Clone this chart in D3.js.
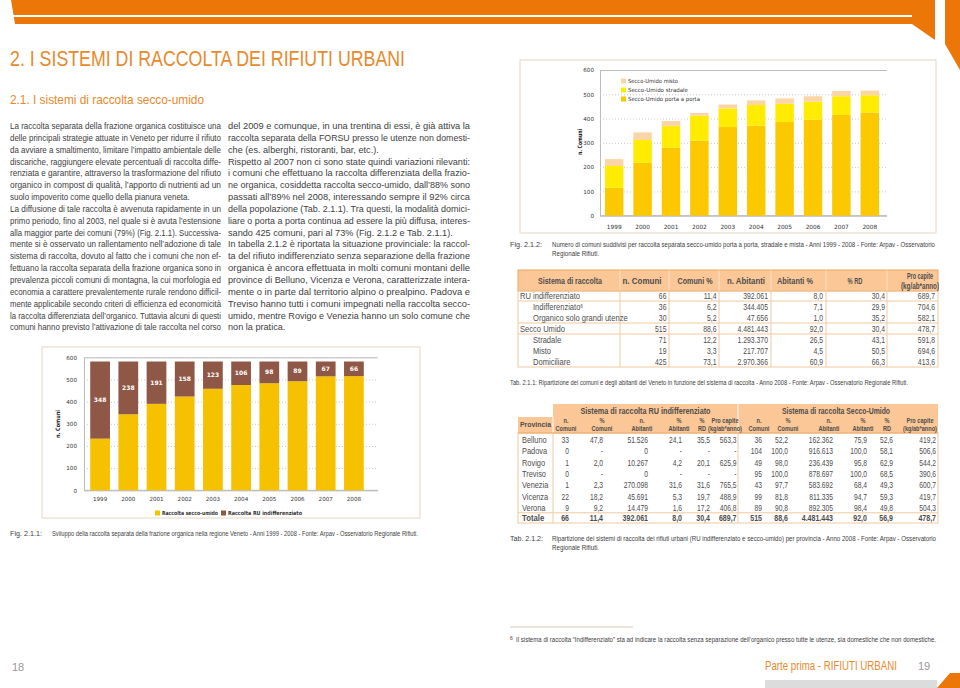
<!DOCTYPE html>
<html><head><meta charset="utf-8">
<script src="https://cdn.jsdelivr.net/npm/d3@7"></script>
<style>
html,body{margin:0;padding:0;background:#fff;}
svg{display:block;}
</style></head><body>
<svg id="page" width="960" height="688"></svg>
<script>
// ---------------- DATA ----------------
const years = ["1999","2000","2001","2002","2003","2004","2005","2006","2007","2008"];
const seccoUmido = [233,343,390,423,458,475,483,492,514,515];
const ruIndifferenziato = [348,238,191,158,123,106,98,89,67,66];
const portaAPorta = [115,218,280,309,365,371,386,395,415,425];
const stradale = [90,94,89,103,77,85,75,75,77,71];
const misto = [28,31,21,11,16,19,22,22,22,19];
const yTicks = [0,100,200,300,400,500,600];

const tab1Header = ["Sistema di raccolta","n. Comuni","Comuni %","n. Abitanti","Abitanti %","% RD","Pro capite|(kg/ab*anno)"];
const tab1Labels = ["RU indifferenziato","Indifferenziato","Organico solo grandi utenze","Secco Umido","Stradale","Misto","Domiciliare"];
const tab1Level = [0,1,1,0,1,1,1];
const tab1Values = [
  ["66","11,4","392.061","8,0","30,4","689,7"],
  ["36","6,2","344.405","7,1","29,9","704,6"],
  ["30","5,2","47.656","1,0","35,2","582,1"],
  ["515","88,6","4.481.443","92,0","30,4","478,7"],
  ["71","12,2","1.293.370","26,5","43,1","591,8"],
  ["19","3,3","217.707","4,5","50,5","694,6"],
  ["425","73,1","2.970.366","60,9","66,3","413,6"]
];
const tab2Groups = ["Sistema di raccolta RU indifferenziato","Sistema di raccolta Secco-Umido"];
const tab2Sub = [["n.","Comuni"],["%","Comuni"],["n.","Abitanti"],["%","Abitanti"],["%","RD"],["Pro capite","(kg/ab*anno)"]];
const province = ["Belluno","Padova","Rovigo","Treviso","Venezia","Vicenza","Verona","Totale"];
const tab2RU = [
  ["33","47,8","51.526","24,1","35,5","563,3"],
  ["0","-","0","-","-","-"],
  ["1","2,0","10.267","4,2","20,1","625,9"],
  ["0","-","0","-","-","-"],
  ["1","2,3","270.098","31,6","31,6","765,5"],
  ["22","18,2","45.691","5,3","19,7","488,9"],
  ["9","9,2","14.479","1,6","17,2","406,8"],
  ["66","11,4","392.061","8,0","30,4","689,7"]
];
const tab2SU = [
  ["36","52,2","162.362","75,9","52,6","419,2"],
  ["104","100,0","916.613","100,0","58,1","506,6"],
  ["49","98,0","236.439","95,8","62,9","544,2"],
  ["95","100,0","878.697","100,0","68,5","390,6"],
  ["43","97,7","583.692","68,4","49,3","600,7"],
  ["99","81,8","811.335","94,7","59,3","419,7"],
  ["89","90,8","892.305","98,4","49,8","504,3"],
  ["515","88,6","4.481.443","92,0","56,9","478,7"]
];

const leftLines = [
"La raccolta separata della frazione organica costituisce una",
"delle principali strategie attuate in Veneto per ridurre il rifiuto",
"da avviare a smaltimento, limitare l’impatto ambientale delle",
"discariche, raggiungere elevate percentuali di raccolta diffe-",
"renziata e garantire, attraverso la trasformazione del rifiuto",
"organico in compost di qualità, l’apporto di nutrienti ad un",
"suolo impoverito come quello della pianura veneta.",
"La diffusione di tale raccolta è avvenuta rapidamente in un",
"primo periodo, fino al 2003, nel quale si è avuta l’estensione",
"alla maggior parte dei comuni (79%) (Fig. 2.1.1). Successiva-",
"mente si è osservato un rallentamento nell’adozione di tale",
"sistema di raccolta, dovuto al fatto che i comuni che non ef-",
"fettuano la raccolta separata della frazione organica sono in",
"prevalenza piccoli comuni di montagna, la cui morfologia ed",
"economia a carattere prevalentemente rurale rendono difficil-",
"mente applicabile secondo criteri di efficienza ed economicità",
"la raccolta differenziata dell’organico. Tuttavia alcuni di questi",
"comuni hanno previsto l’attivazione di tale raccolta nel corso"
];
const midLines = [
"del 2009 e comunque, in una trentina di essi, è già attiva la",
"raccolta separata della FORSU presso le utenze non domesti-",
"che (es. alberghi, ristoranti, bar, etc.).",
"Rispetto al 2007 non ci sono state quindi variazioni rilevanti:",
"i comuni che effettuano la raccolta differenziata della frazio-",
"ne organica, cosiddetta raccolta secco-umido, dall’88% sono",
"passati all’89% nel 2008, interessando sempre il 92% circa",
"della popolazione (Tab. 2.1.1). Tra questi, la modalità domici-",
"liare o porta a porta continua ad essere la più diffusa, interes-",
"sando 425 comuni, pari al 73% (Fig. 2.1.2 e Tab. 2.1.1).",
"In tabella 2.1.2 è riportata la situazione provinciale: la raccol-",
"ta del rifiuto indifferenziato senza separazione della frazione",
"organica è ancora effettuata in molti comuni montani delle",
"province di Belluno, Vicenza e Verona, caratterizzate intera-",
"mente o in parte dal territorio alpino o prealpino. Padova e",
"Treviso hanno tutti i comuni impegnati nella raccolta secco-",
"umido, mentre Rovigo e Venezia hanno un solo comune che",
"non la pratica."
];

// ---------------- HELPERS ----------------
const BODY = "'Liberation Sans',Arial,sans-serif";
const CHART = "'DejaVu Sans',Verdana,sans-serif";
const ORANGE = "#ec7608";
const TORANGE = "#e8892c";
const TXT = "#3d3d3d";
const TAB = "#4d4d4d";
const svg = d3.select("#page");

function txt(p, x, y, s, o) {
  o = o || {};
  const t = p.append("text").attr("x", x).attr("y", y).attr("dy", "0.35em").text(s)
    .attr("font-family", o.family || BODY).attr("font-size", o.size || 9)
    .attr("fill", o.fill || TXT);
  if (o.weight) t.attr("font-weight", o.weight);
  if (o.anchor) t.attr("text-anchor", o.anchor);
  if (o.w) t.attr("textLength", o.w).attr("lengthAdjust", "spacingAndGlyphs");
  else if (o.k) {
    const nat = t.node().getComputedTextLength();
    t.attr("textLength", nat * o.k).attr("lengthAdjust", "spacingAndGlyphs");
  }
  return t;
}
function natural(p, s, size, weight) {
  const t = p.append("text").text(s).attr("font-family", BODY).attr("font-size", size);
  if (weight) t.attr("font-weight", weight);
  const n = t.node().getComputedTextLength();
  t.remove();
  return n;
}

// ---------------- HEADER / FOOTER ----------------
svg.append("polygon").attr("points", "10,0 935,0 935,40 912,24 15,24 11,0").attr("fill", ORANGE);
svg.append("rect").attr("x", 12).attr("y", 15).attr("width", 900).attr("height", 2).attr("fill", "#fff");
svg.append("polygon").attr("points", "945,0 960,0 960,70 945,44").attr("fill", ORANGE);
svg.append("rect").attr("x", 765).attr("y", 680).attr("width", 172).attr("height", 8).attr("fill", "#dcdcdc");
svg.append("polygon").attr("points", "937,688 950,673 960,673 960,688").attr("fill", ORANGE);

txt(svg, 10, 58, "2. I SISTEMI DI RACCOLTA DEI RIFIUTI URBANI", {size: 22, fill: TORANGE, w: 395});
txt(svg, 10, 99, "2.1.  I sistemi di raccolta secco-umido", {size: 13, fill: TORANGE, w: 194});

txt(svg, 12, 667, "18", {size: 11, fill: "#999"});
txt(svg, 765, 666, "Parte prima - RIFIUTI URBANI", {size: 12.5, fill: TORANGE, w: 132});
txt(svg, 918, 666, "19", {size: 11, fill: "#999"});

// ---------------- BODY TEXT ----------------
const lineH = 11.85;
const BSIZE = 9.3;
function column(lines, x0, width, shortIdx) {
  let ratios = [];
  lines.forEach((s, i) => { if (!shortIdx.includes(i)) ratios.push(width / natural(svg, s, BSIZE)); });
  const k = d3.mean(ratios);
  lines.forEach((s, i) => {
    const y = 125.7 + i * lineH;
    if (shortIdx.includes(i)) txt(svg, x0, y, s, {size: BSIZE, k: k});
    else txt(svg, x0, y, s, {size: BSIZE, w: width});
  });
}
column(leftLines, 10, 211, [6]);
column(midLines, 228, 242, [2, 9, 17]);

// ---------------- CHART 1 ----------------
const c1 = svg.append("g");
c1.append("rect").attr("x", 42).attr("y", 347).attr("width", 378).attr("height", 171)
  .attr("fill", "none").attr("stroke", "#e8d6c0").attr("stroke-width", 1);
const x1 = d3.scaleBand().domain(years).range([86, 368]).paddingInner(0.3).paddingOuter(0.15);
const y1 = d3.scaleLinear().domain([0, 600]).range([490.3, 357.3]);
const ax1 = c1.append("g").attr("transform", "translate(84,0)")
  .call(d3.axisLeft(y1).tickValues(yTicks).tickSize(-294).tickPadding(7).tickFormat(d3.format("d")));
ax1.select(".domain").attr("stroke", "#bbb");
ax1.selectAll(".tick line").attr("stroke", "#c8c8c8").attr("stroke-dasharray", "1,2");
ax1.selectAll(".tick text").attr("font-family", CHART).attr("font-size", 5.6).attr("fill", "#333");
c1.append("line").attr("x1", 84).attr("x2", 378).attr("y1", y1(0)).attr("y2", y1(0)).attr("stroke", "#bbb");
const ax1x = c1.append("g").attr("transform", `translate(0,${y1(0)})`)
  .call(d3.axisBottom(x1).tickSize(0).tickPadding(7));
ax1x.select(".domain").remove();
ax1x.selectAll(".tick text").attr("font-family", CHART).attr("font-size", 5.6).attr("fill", "#333");

c1.selectAll(".bs").data(years).enter().append("rect")
  .attr("x", d => x1(d)).attr("width", x1.bandwidth())
  .attr("y", (d, i) => y1(seccoUmido[i])).attr("height", (d, i) => y1(0) - y1(seccoUmido[i]))
  .attr("fill", "#f6c200");
c1.selectAll(".br").data(years).enter().append("rect")
  .attr("x", d => x1(d)).attr("width", x1.bandwidth())
  .attr("y", (d, i) => y1(seccoUmido[i] + ruIndifferenziato[i]))
  .attr("height", (d, i) => y1(seccoUmido[i]) - y1(seccoUmido[i] + ruIndifferenziato[i]))
  .attr("fill", "#8f5846");
years.forEach((d, i) => {
  txt(c1, x1(d) + x1.bandwidth() / 2, y1(seccoUmido[i] + ruIndifferenziato[i] / 2), String(ruIndifferenziato[i]),
    {family: CHART, size: 6, weight: "bold", fill: "#fff", anchor: "middle"});
});
txt(c1, 0, 0, "n. Comuni", {family: CHART, size: 6, weight: "bold", fill: "#222", anchor: "middle", w: 28})
  .attr("transform", "translate(58,424) rotate(-90)");
c1.append("rect").attr("x", 155).attr("y", 510.5).attr("width", 5).attr("height", 5).attr("fill", "#f6c200");
txt(c1, 162, 513, "Raccolta secco-umido", {family: CHART, size: 5.6, weight: "bold", fill: "#333", w: 56});
c1.append("rect").attr("x", 221).attr("y", 510.5).attr("width", 5).attr("height", 5).attr("fill", "#8f5846");
txt(c1, 228, 513, "Raccolta RU indifferenziato", {family: CHART, size: 5.6, weight: "bold", fill: "#333", w: 74});

txt(svg, 10, 533, "Fig. 2.1.1:", {size: 7.3, w: 32});
txt(svg, 52, 533, "Sviluppo della raccolta separata della frazione organica nella regione Veneto - Anni 1999 - 2008 - Fonte: Arpav - Osservatorio Regionale Rifiuti.", {size: 7.3, w: 366});

// ---------------- CHART 2 ----------------
const c2 = svg.append("g");
c2.append("rect").attr("x", 520).attr("y", 60).attr("width", 416).attr("height", 173)
  .attr("fill", "none").attr("stroke", "#e8d6c0").attr("stroke-width", 1);
const x2 = d3.scaleBand().domain(years).range([600, 884]).paddingInner(0.35).paddingOuter(0.175);
const y2 = d3.scaleLinear().domain([0, 600]).range([215.7, 70]);
const ax2 = c2.append("g").attr("transform", "translate(600,0)")
  .call(d3.axisLeft(y2).tickValues(yTicks).tickSize(-287).tickPadding(6).tickFormat(d3.format("d")));
ax2.select(".domain").attr("stroke", "#bbb");
ax2.selectAll(".tick line").attr("stroke", "#c8c8c8").attr("stroke-dasharray", "1,2");
ax2.selectAll(".tick text").attr("font-family", CHART).attr("font-size", 5.6).attr("fill", "#333");
c2.append("line").attr("x1", 600).attr("x2", 887).attr("y1", y2(0)).attr("y2", y2(0)).attr("stroke", "#bbb");
const ax2x = c2.append("g").attr("transform", `translate(0,${y2(0)})`)
  .call(d3.axisBottom(x2).tickSize(0).tickPadding(9));
ax2x.select(".domain").remove();
ax2x.selectAll(".tick text").attr("font-family", CHART).attr("font-size", 5.8).attr("fill", "#333");

const stackData = years.map((y, i) => ({year: y, porta: portaAPorta[i], strad: stradale[i], misto: misto[i]}));
const keys = ["porta", "strad", "misto"];
const colors2 = {porta: "#fcc800", strad: "#ffec00", misto: "#fad5a6"};
const series = d3.stack().keys(keys)(stackData);
c2.selectAll(".s").data(series).enter().append("g").attr("fill", d => colors2[d.key])
  .selectAll("rect").data(d => d).enter().append("rect")
  .attr("x", d => x2(d.data.year)).attr("width", x2.bandwidth())
  .attr("y", d => y2(d[1])).attr("height", d => y2(d[0]) - y2(d[1]));
txt(c2, 0, 0, "n. Comuni", {family: CHART, size: 6, weight: "bold", fill: "#222", anchor: "middle", w: 26})
  .attr("transform", "translate(580,142) rotate(-90)");
const leg2 = [["misto", "Secco-Umido misto", 50], ["strad", "Secco-Umido stradale", 60], ["porta", "Secco-Umido porta a porta", 72]];
leg2.forEach((l, i) => {
  const cy = 81 + i * 9;
  c2.append("rect").attr("x", 621).attr("y", cy - 2.5).attr("width", 5).attr("height", 5).attr("fill", colors2[l[0]]);
  txt(c2, 628, cy, l[1], {family: CHART, size: 5.6, fill: "#333", w: l[2]});
});

txt(svg, 510, 244, "Fig. 2.1.2:", {size: 7.3, w: 32});
txt(svg, 552, 244, "Numero di comuni suddivisi per raccolta separata secco-umido porta a porta, stradale e mista - Anni 1999 - 2008 - Fonte: Arpav - Osservatorio", {size: 7.3, w: 383});
txt(svg, 552, 253, "Regionale Rifiuti.", {size: 7.3, w: 47});

// ---------------- TABLE 1 ----------------
const KN = 0.78, KL = 0.86;
const TS = 8.8;
const t1 = svg.append("g");
const HFILL = "#fbc797", HSTROKE = "#efa561", LINE = "#f3c89e";
t1.append("rect").attr("x", 518).attr("y", 270).attr("width", 420).attr("height", 21).attr("fill", HFILL).attr("stroke", HSTROKE);
t1.append("rect").attr("x", 518).attr("y", 291).attr("width", 420).attr("height", 76).attr("fill", "none").attr("stroke", LINE);
const t1Edges = [620, 669, 719, 771, 826, 887];
t1Edges.forEach(x => {
  t1.append("line").attr("x1", x).attr("x2", x).attr("y1", 291).attr("y2", 367).attr("stroke", LINE);
  t1.append("line").attr("x1", x).attr("x2", x).attr("y1", 270.5).attr("y2", 290.5).attr("stroke", "#fde3c8");
});
[301, 323, 334].forEach(y => t1.append("line").attr("x1", 518).attr("x2", 938).attr("y1", y).attr("y2", y).attr("stroke", LINE));
const t1HC = [570, 642, 695, 746, 795, 855, 920];
const t1HW = [64, 39, 35, 38, 36, 15, 25];
tab1Header.forEach((h, i) => {
  const parts = h.split("|");
  if (parts.length === 1) txt(t1, t1HC[i], 280.5, h, {size: 9, weight: "bold", fill: TAB, anchor: "middle", w: t1HW[i]});
  else {
    txt(t1, t1HC[i], 276, parts[0], {size: 9, weight: "bold", fill: TAB, anchor: "middle", w: 26});
    txt(t1, t1HC[i], 286, parts[1], {size: 9, weight: "bold", fill: TAB, anchor: "middle", w: 38});
  }
});
const t1Right = [666.5, 716.5, 768, 823, 885, 935];
tab1Labels.forEach((l, r) => {
  const cy = 295.5 + r * 11;
  const lt = txt(t1, tab1Level[r] ? 533 : 520, cy, l, {size: TS, fill: TAB});
  if (r === 1) lt.append("tspan").attr("dy", "-0.35em").attr("font-size", 5).text("6");
  const n = lt.node().getComputedTextLength();
  lt.attr("textLength", n * KL).attr("lengthAdjust", "spacingAndGlyphs");
  tab1Values[r].forEach((v, c) => txt(t1, t1Right[c], cy, v, {size: TS, fill: TAB, anchor: "end", k: KN}));
});
txt(svg, 510, 382, "Tab. 2.1.1: Ripartizione dei comuni e degli abitanti del Veneto in funzione del sistema di raccolta - Anno 2008 - Fonte: Arpav - Osservatorio Regionale Rifiuti.", {size: 7.3, w: 398});

// ---------------- TABLE 2 ----------------
const t2 = svg.append("g");
t2.append("rect").attr("x", 553).attr("y", 404).attr("width", 385).attr("height", 13).attr("fill", HFILL);
t2.append("rect").attr("x", 518).attr("y", 417).attr("width", 420).attr("height", 16).attr("fill", HFILL);
t2.append("line").attr("x1", 738).attr("x2", 738).attr("y1", 404).attr("y2", 433).attr("stroke", "#fff");
t2.append("line").attr("x1", 553).attr("x2", 553).attr("y1", 417).attr("y2", 433).attr("stroke", "#fff");
t2.append("rect").attr("x", 518).attr("y", 433).attr("width", 420).attr("height", 90).attr("fill", "none").attr("stroke", LINE);
[553, 738].forEach(x => t2.append("line").attr("x1", x).attr("x2", x).attr("y1", 433).attr("y2", 523).attr("stroke", LINE));
t2.append("line").attr("x1", 518).attr("x2", 938).attr("y1", 512.8).attr("y2", 512.8).attr("stroke", LINE);
t2.append("line").attr("x1", 518).attr("x2", 938).attr("y1", 433).attr("y2", 433).attr("stroke", HSTROKE);
txt(t2, 645.5, 410.5, tab2Groups[0], {size: 9.2, weight: "bold", fill: TAB, anchor: "middle", w: 130});
txt(t2, 836, 410.5, tab2Groups[1], {size: 9.2, weight: "bold", fill: TAB, anchor: "middle", w: 108});
txt(t2, 535.5, 424.5, "Provincia", {size: 7.6, weight: "bold", fill: TAB, anchor: "middle", w: 31});
const hcRU = [566, 602, 642, 679, 702, 725];
const hcSU = [759, 788, 829, 863, 887, 920];
[hcRU, hcSU].forEach(hc => {
  tab2Sub.forEach((s, i) => {
    txt(t2, hc[i], 420.5, s[0], {size: 7, weight: "bold", fill: TAB, anchor: "middle", k: 0.8});
    txt(t2, hc[i], 428.5, s[1], {size: 7, weight: "bold", fill: TAB, anchor: "middle", k: 0.8});
  });
});
const rRU = [569, 603, 648, 682, 710, 736.5];
const rSU = [762, 788, 833, 867, 893, 936];
province.forEach((p, r) => {
  const tot = r === province.length - 1;
  const cy = tot ? 518.3 : 440 + r * 11.3;
  const o = {size: tot ? 9 : 8.6, weight: tot ? "bold" : null, fill: TAB};
  txt(t2, 522, cy, p, Object.assign({k: KL}, o));
  tab2RU[r].forEach((v, c) => txt(t2, rRU[c], cy, v, Object.assign({anchor: "end", k: KN}, o)));
  tab2SU[r].forEach((v, c) => txt(t2, rSU[c], cy, v, Object.assign({anchor: "end", k: KN}, o)));
});
txt(svg, 510, 538, "Tab. 2.1.2:", {size: 7.3, w: 33});
txt(svg, 552, 538, "Ripartizione dei sistemi di raccolta dei rifiuti urbani (RU indifferenziato e secco-umido) per provincia - Anno 2008 - Fonte: Arpav - Osservatorio", {size: 7.3, w: 384});
txt(svg, 552, 547, "Regionale Rifiuti.", {size: 7.3, w: 47});

// ---------------- FOOTNOTE ----------------
svg.append("line").attr("x1", 510).attr("x2", 633).attr("y1", 627).attr("y2", 627).attr("stroke", "#d8c8b0");
txt(svg, 510, 638.5, "6", {size: 5});
txt(svg, 516, 640, "Il sistema di raccolta \u201CIndifferenziato\u201D sta ad indicare la raccolta senza separazione dell’organico presso tutte le utenze, sia domestiche che non domestiche.", {size: 7, w: 420});
</script>
</body></html>
